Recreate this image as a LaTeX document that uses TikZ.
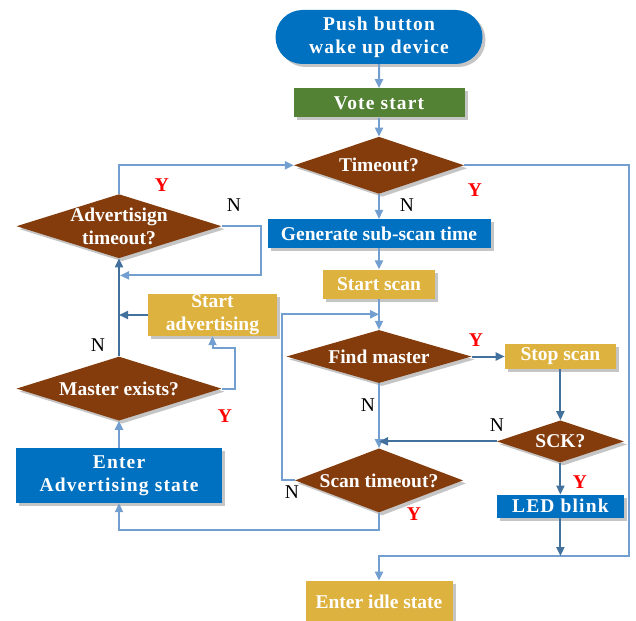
\documentclass[tikz,border=0pt]{standalone}
\usepackage{fontspec}
\setmainfont{Liberation Serif}
\newfontfamily\spacedfont[LetterSpace=6]{Liberation Serif}
\usetikzlibrary{shapes.geometric, shapes.misc, arrows.meta, positioning, shadows, calc}
\definecolor{flowblue}{RGB}{0,112,192}
\definecolor{flowgreen}{RGB}{84,130,53}
\definecolor{flowbrown}{RGB}{132,60,12}
\definecolor{flowgold}{RGB}{222,178,62}
\definecolor{linelight}{RGB}{114,159,207}
\definecolor{linedark}{RGB}{65,113,156}
\tikzset{
    boxfont/.style={font={\fontsize{19.5pt}{23pt}\selectfont\bfseries}},
    spaced/.style={font={\spacedfont\fontsize{19.5pt}{23pt}\selectfont\bfseries}},
    boxshadow/.style={drop shadow={shadow xshift=3pt, shadow yshift=-3pt, fill=black!45, opacity=0.5}},
    procbox/.style={rectangle, boxfont, text=white, align=center, inner sep=0pt, boxshadow},
    startbox/.style={rounded rectangle, spaced, fill=flowblue, text=white, align=center, inner sep=0pt, boxshadow},
    decision/.style={diamond, fill=flowbrown, inner sep=0pt, boxshadow},
    dtext/.style={boxfont, text=white, align=center, fill=none, draw=none},
    yeslab/.style={boxfont, text=red},
    nolab/.style={font={\fontsize{19.5pt}{23pt}\selectfont}, text=black},
}

\begin{document}
\begin{tikzpicture}[
    x=1pt, y=-1pt,
    lightarrow/.style={-{Triangle[length=9pt,width=8pt]}, linelight, line width=2pt},
    darkarrow/.style={-{Triangle[length=9pt,width=8pt]}, linedark, line width=2pt},
    lightline/.style={linelight, line width=2pt}
]
\useasboundingbox (0,0) rectangle (636,620);

% Main column
\node[startbox, minimum width=207pt, minimum height=54pt] (push) at (379,37) {Push button\\wake up device};
\node[procbox, spaced, fill=flowgreen, minimum width=171pt, minimum height=29pt, below=24pt of push] (vote) {Vote start};
\node[decision, minimum width=170pt, minimum height=57pt, below=19pt of vote, label={[dtext]center:Timeout?}] (timeout) {};
\node[procbox, fill=flowblue, minimum width=223pt, minimum height=29pt, below=25pt of timeout] (subscan) {Generate sub-scan time};
\node[procbox, fill=flowgold, minimum width=112pt, minimum height=29pt, below=21pt of subscan] (startscan) {Start scan};
\node[decision, minimum width=185pt, minimum height=53pt, below=31pt of startscan, label={[dtext]center:Find master}] (findm) {};
\node[decision, minimum width=168pt, minimum height=64pt, below=65pt of findm, label={[dtext]center:Scan timeout?}] (scanto) {};
\node[procbox, fill=flowgold, minimum width=147pt, minimum height=42pt, below=68pt of scanto] (idle) {Enter idle state};

% Right column
\node[procbox, fill=flowgold, minimum width=111pt, minimum height=25pt, right=33pt of findm] (stopscan) {Stop scan};
\node[decision, minimum width=127pt, minimum height=42pt, below=51pt of stopscan, label={[dtext]center:SCK?}] (sck) {};
\node[procbox, spaced, fill=flowblue, minimum width=127pt, minimum height=23pt, below=32pt of sck] (led) {LED blink};

% Left column
\node[procbox, spaced, fill=flowblue, minimum width=206pt, minimum height=55pt] (enteradv) at (119,475.5) {Enter\\Advertising state};
\node[decision, minimum width=205pt, minimum height=64pt, above=27pt of enteradv, label={[dtext]center:Master exists?}] (mexist) {};
\node[decision, minimum width=205pt, minimum height=64pt, above=98pt of mexist, label={[dtext]center:{Advertisign\\timeout?}}] (advto) {};
\node[procbox, fill=flowgold, minimum width=129pt, minimum height=42pt] (startadv) at (212.5,315) {Start\\advertising};

% Join points
\coordinate (scanjoin) at ($(startscan.south)!0.5!(findm.north)$);
\coordinate (rightc) at (629,556);

% Main column arrows
\draw[lightarrow] (push) -- (vote);
\draw[lightarrow] (vote) -- (timeout);
\draw[lightarrow] (timeout) -- (subscan);
\draw[lightarrow] (subscan) -- (startscan);
\draw[lightarrow] (startscan) -- (findm);
\draw[lightarrow] (findm) -- (scanto);
\draw[lightarrow] (scanto.west) -- ++(-13,0) |- (scanjoin);
\draw[lightarrow] (timeout.east) -| (rightc) -| (idle.north);
\draw[lightarrow] (scanto.south) -- ++(0,17) -| (enteradv.south);

% Right column arrows
\draw[darkarrow] (findm.east) -- (stopscan.west);
\draw[darkarrow] (stopscan) -- (sck);
\draw[darkarrow] (sck.west) -- (findm.south |- sck.west);
\draw[darkarrow] (sck) -- (led);
\draw[darkarrow] (led.south) -- (led.south |- rightc);

% Left column arrows
\draw[lightarrow] (enteradv) -- (mexist);
\draw[lightarrow] (mexist.east) -- ++(13,0) |- ([yshift=-12pt]startadv.south) -- (startadv.south);
\draw[lightarrow] (advto.east) -- ++(39,0) |- ($(advto.south)+(1,17)$);
\draw[lightarrow] (advto.north) |- (timeout.west);
\draw[darkarrow] (mexist) -- (advto);
\draw[darkarrow] (startadv.west) -- (advto.south |- startadv.west);

% Branch labels
\node[yeslab] (y-adv) at (162,185) {Y};
\node[nolab] (n-adv) at (234,205) {N};
\node[yeslab] (y-time) at (475,190) {Y};
\node[nolab] (n-time) at (407,205) {N};
\node[yeslab] (y-find) at (476,340) {Y};
\node[nolab] (n-find) at (368,405) {N};
\node[nolab] (n-sck) at (497,425) {N};
\node[yeslab] (y-sck) at (580,482) {Y};
\node[nolab] (n-scan) at (292,492) {N};
\node[yeslab] (y-scan) at (414,514) {Y};
\node[nolab] (n-mast) at (98,345) {N};
\node[yeslab] (y-mast) at (225,416) {Y};

\end{tikzpicture}
\end{document}
